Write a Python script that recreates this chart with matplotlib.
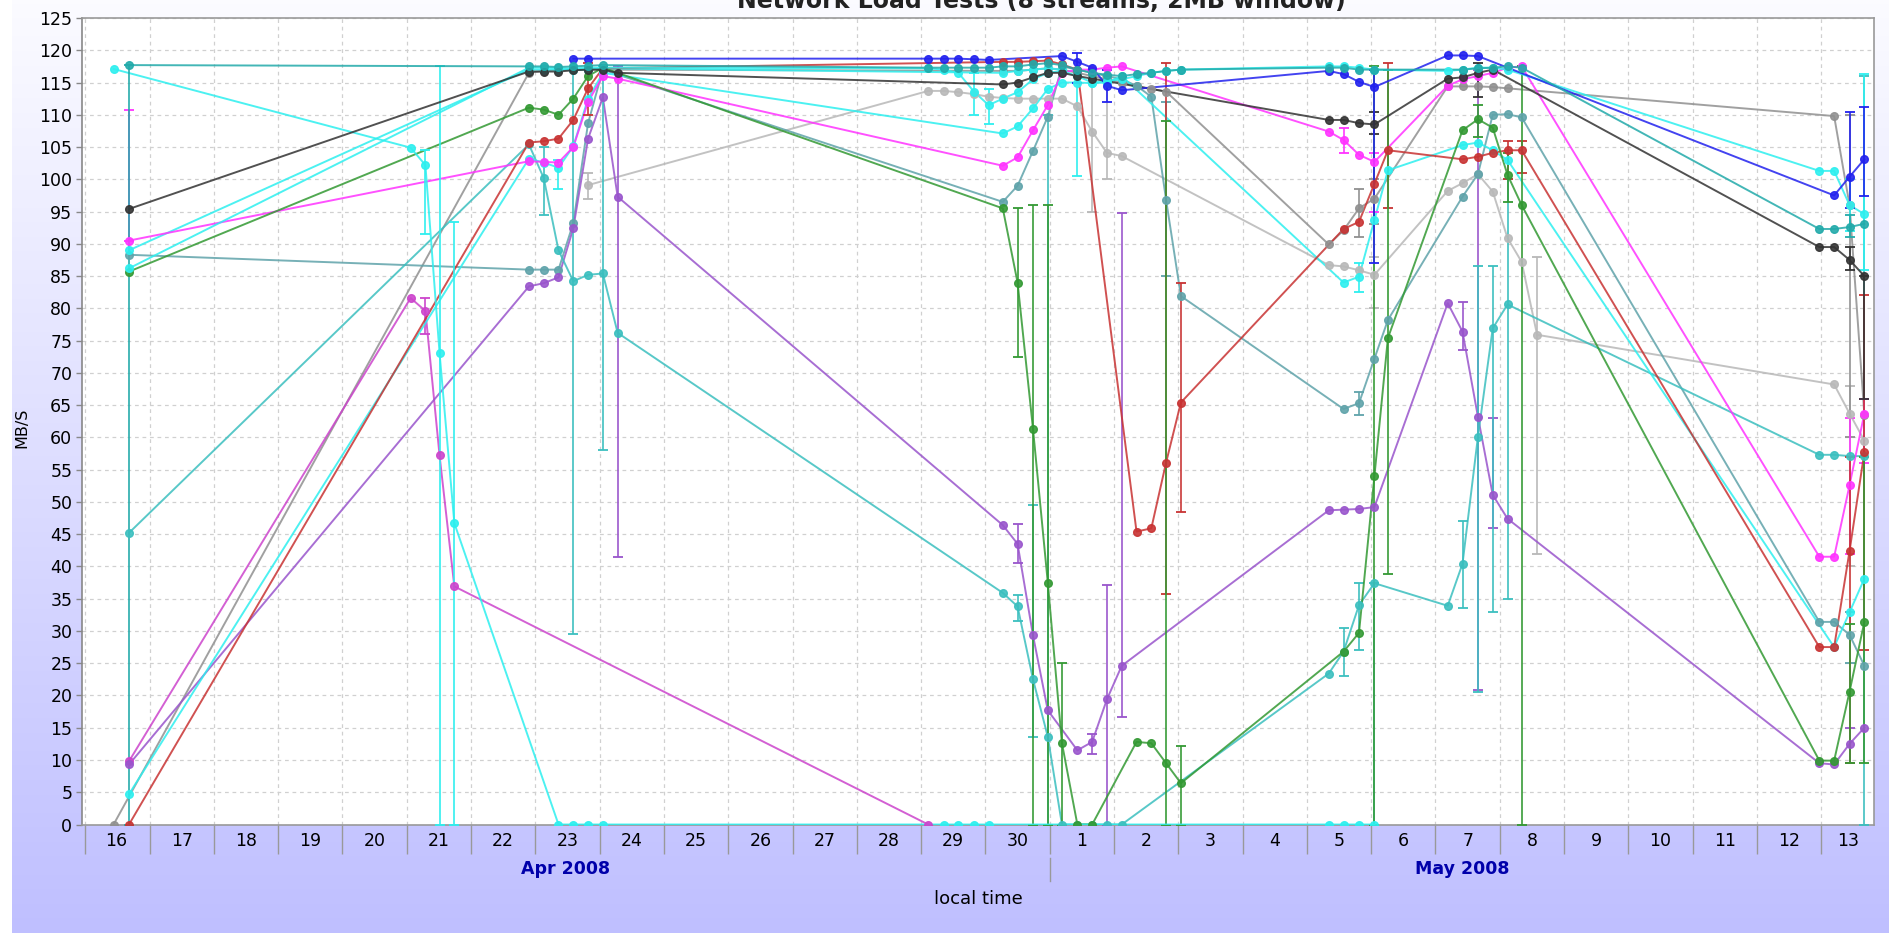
import numpy as np
import matplotlib
matplotlib.use('Agg')
from matplotlib import pyplot as plt
from matplotlib.transforms import blended_transform_factory

# x values are days since 2008-04-16 00:00 local time, y values are MB/S
black_t = [0.68, 6.90, 7.13, 7.36, 7.59, 7.82, 8.05, 8.28, 14.27, 14.50, 14.74, 14.97, 15.19, 15.43, 15.66,
           19.34, 19.57, 19.81, 20.05, 21.19, 21.42, 21.66, 21.89, 26.97, 27.20, 27.44, 27.67]
black_v = [95.4, 116.7, 116.7, 116.7, 116.9, 117.0, 117.0, 116.5, 114.7, 115.0, 115.8, 116.5, 116.5, 116.0, 115.6,
           109.2, 109.2, 108.7, 108.5, 115.6, 115.8, 116.5, 117.0, 89.5, 89.5, 87.5, 85.0]
black_err = [(21.66, 112.8, 118.0), (27.44, 86.0, 89.5), (27.67, 66.0, 85.0), (20.05, 107.0, 110.5)]

blue_t = [7.59, 7.82, 13.11, 13.35, 13.58, 13.82, 14.05, 15.19, 15.43, 15.66, 15.89, 16.12,
          19.34, 19.57, 19.81, 20.05, 21.19, 21.42, 21.66, 27.20, 27.44, 27.67]
blue_v = [118.7, 118.7, 118.7, 118.7, 118.7, 118.6, 118.5, 119.1, 118.2, 117.3, 114.5, 113.8,
          116.8, 116.3, 115.1, 114.3, 119.2, 119.2, 119.1, 97.5, 100.4, 103.1]
blue_err = [(15.43, 115.0, 119.5), (15.89, 112.0, 117.0), (20.05, 87.0, 117.0), (27.44, 95.5, 110.5), (27.67, 97.4, 111.2)]

red_t = [0.68, 6.90, 7.13, 7.36, 7.59, 7.82, 8.05, 14.27, 14.50, 14.74, 14.97, 15.19, 15.43, 16.35, 16.58, 16.81, 17.04,
         19.57, 19.81, 20.05, 20.26, 21.42, 21.66, 21.89, 22.12, 22.34, 26.97, 27.20, 27.44, 27.67]
red_v = [0.0, 105.7, 105.9, 106.3, 109.2, 114.1, 117.2, 118.2, 118.2, 118.3, 118.4, 117.8, 117.0, 45.4, 45.9, 56.1, 65.4,
         92.3, 93.4, 99.3, 104.5, 103.1, 103.5, 104.1, 104.5, 104.5, 27.5, 27.5, 42.4, 57.7]
red_err = [(16.81, 35.8, 118.0), (17.04, 48.5, 84.0), (20.26, 95.5, 118.0), (22.12, 100.0, 106.0), (22.34, 101.0, 106.0),
           (27.44, 9.5, 57.0), (27.67, 27.0, 82.0), (7.82, 110.0, 118.0)]

green_t = [0.68, 6.90, 7.13, 7.36, 7.59, 7.82, 8.05, 14.27, 14.50, 14.74, 14.97, 15.19, 15.43, 15.66, 16.35, 16.58,
           16.81, 17.04, 19.57, 19.81, 20.05, 20.26, 21.42, 21.66, 21.89, 22.12, 22.34, 26.97, 27.20, 27.44, 27.67]
green_v = [85.7, 111.1, 110.8, 110.0, 112.5, 116.0, 117.3, 95.5, 84.0, 61.3, 37.5, 12.6, 0.0, 0.0, 12.8, 12.6,
           9.5, 6.4, 26.8, 29.7, 54.0, 75.4, 107.6, 109.3, 108.0, 100.7, 96.0, 9.9, 9.9, 20.6, 31.4]
green_err = [(14.50, 72.5, 95.5), (14.74, 0.0, 96.0), (14.97, 0.0, 96.0), (15.19, 0.0, 25.0), (16.81, 0.0, 109.0),
             (17.04, 0.0, 12.1), (20.05, 0.0, 117.5), (20.26, 38.9, 117.0), (21.66, 106.5, 111.5), (22.12, 96.5, 104.0),
             (22.34, 0.0, 117.5), (27.44, 9.5, 31.0), (27.67, 9.5, 57.0)]

purple_t = [0.68, 6.90, 7.13, 7.36, 7.59, 7.82, 8.05, 8.28, 14.27, 14.50, 14.74, 14.97, 15.43, 15.66, 15.89, 16.12,
            19.34, 19.57, 19.81, 20.05, 21.19, 21.42, 21.66, 21.89, 22.12, 26.97, 27.20, 27.44, 27.67]
purple_v = [9.3, 83.4, 83.9, 84.8, 92.4, 106.3, 112.7, 97.3, 46.4, 43.5, 29.3, 17.7, 11.5, 12.8, 19.4, 24.6,
            48.7, 48.8, 48.9, 49.2, 80.8, 76.4, 63.2, 51.1, 47.4, 9.5, 9.3, 12.5, 15.0]
purple_err = [(8.28, 41.4, 117.5), (14.50, 40.5, 46.5), (15.66, 11.0, 14.0), (15.89, 0.0, 37.1), (16.12, 16.7, 94.8),
              (21.42, 73.5, 81.0), (21.66, 20.8, 117.0), (21.89, 46.0, 63.0), (27.44, 9.5, 15.0)]

magenta_t = [0.68, 6.90, 7.13, 7.36, 7.59, 7.82, 8.05, 8.28, 14.27, 14.50, 14.74, 14.97, 15.19, 15.43, 15.66, 15.89, 16.12,
             19.34, 19.57, 19.81, 20.05, 21.19, 21.42, 21.66, 21.89, 22.12, 22.34, 26.97, 27.20, 27.44, 27.67]
magenta_v = [90.5, 102.8, 102.7, 102.6, 105.0, 112.0, 116.0, 115.6, 102.1, 103.4, 107.6, 111.5, 116.5, 117.0, 117.0, 117.3, 117.5,
             107.4, 106.1, 103.8, 102.7, 114.5, 115.5, 116.0, 116.5, 117.3, 117.5, 41.5, 41.5, 52.6, 63.7]
magenta_err = [(0.68, 90.5, 110.8), (19.57, 104.0, 108.0), (20.05, 95.0, 104.0), (27.44, 42.0, 63.0), (27.67, 56.0, 66.0)]

orchid_t = [0.68, 5.06, 5.29, 5.51, 5.74, 13.11]
orchid_v = [9.8, 81.6, 79.6, 57.2, 36.9, 0.0]
orchid_err = [(5.29, 76.0, 81.6)]

cyan_a_t = [0.44, 5.06, 5.29, 5.51, 5.74, 7.36, 7.59, 7.82, 8.05, 13.35, 13.58, 13.82, 14.05, 19.34, 19.57, 19.81, 20.05]
cyan_a_v = [117.1, 104.9, 102.2, 73.1, 46.7, 0.0, 0.0, 0.0, 0.0, 0.0, 0.0, 0.0, 0.0, 0.0, 0.0, 0.0, 0.0]
cyan_a_err = [(5.29, 91.5, 104.5), (5.51, 0.0, 117.5), (5.74, 0.0, 93.4)]

cyan_b_t = [0.68, 6.90, 7.13, 7.36, 7.59, 7.82, 8.05, 14.27, 14.50, 14.74, 14.97, 15.19, 15.43, 15.66, 15.89, 16.12,
            19.57, 19.81, 20.05, 20.26, 21.42, 21.66, 21.89, 22.12, 27.20, 27.44, 27.67]
cyan_b_v = [4.7, 103.2, 102.6, 101.8, 105.1, 112.5, 116.5, 107.1, 108.2, 111.0, 114.0, 115.0, 115.0, 114.9, 115.0, 116.0,
            84.0, 84.9, 93.7, 101.4, 105.3, 105.7, 104.5, 103.0, 27.5, 32.9, 38.1]
cyan_b_err = [(7.36, 98.5, 103.0), (15.43, 100.5, 117.0), (19.81, 82.5, 87.0)]

cyan_c_t = [0.68, 6.90, 7.13, 7.36, 7.59, 7.82, 8.05, 13.11, 13.35, 13.58, 13.82, 14.05, 14.27, 14.50, 14.74, 14.97,
            15.19, 15.43, 15.66, 15.89, 16.12, 16.35, 16.58, 16.81, 17.04, 19.34, 19.57, 19.81, 20.05,
            21.19, 21.42, 21.66, 21.89, 22.12, 26.97, 27.20, 27.44, 27.67]
cyan_c_v = [86.2, 117.3, 117.3, 117.2, 117.2, 117.3, 117.3, 117.2, 117.0, 116.5, 113.6, 111.5, 112.5, 113.5, 115.5, 116.5,
            116.8, 116.0, 115.0, 115.2, 115.5, 116.0, 116.5, 116.8, 117.0, 117.5, 117.5, 117.3, 117.0,
            116.8, 117.0, 117.3, 117.3, 117.0, 101.3, 101.3, 96.0, 94.6]
cyan_c_err = [(13.82, 110.0, 116.5), (14.05, 108.5, 114.0), (27.67, 86.0, 116.3), (27.44, 92.0, 100.0)]

cyan_d_t = [0.68, 6.90, 7.13, 7.36, 7.59, 7.82, 8.05, 14.27, 14.50, 14.74, 14.97, 15.19]
cyan_d_v = [89.0, 117.0, 117.0, 117.0, 117.0, 117.0, 117.2, 116.5, 116.8, 117.0, 117.2, 117.0]

teal_a_t = [0.68, 6.90, 7.13, 7.36, 7.59, 7.82, 8.05, 8.28, 14.27, 14.50, 14.74, 14.97, 15.19, 15.43, 15.66, 15.89, 16.12,
            19.34, 19.57, 19.81, 20.05, 21.19, 21.42, 21.66, 21.89, 22.12, 26.97, 27.20, 27.44, 27.67]
teal_a_v = [45.2, 105.4, 100.2, 89.0, 84.2, 85.2, 85.4, 76.2, 35.9, 33.8, 22.5, 13.6, 0.0, 0.0, 0.0, 0.0, 0.0,
            23.4, 26.8, 34.0, 37.4, 33.9, 40.4, 60.1, 76.9, 80.6, 57.3, 57.3, 57.1, 57.1]
teal_a_err = [(7.13, 94.5, 105.0), (7.59, 29.6, 117.0), (8.05, 58.0, 117.5), (14.50, 31.5, 35.5), (14.74, 13.5, 49.5),
              (14.97, 0.0, 110.0), (19.57, 23.0, 30.5), (19.81, 27.0, 37.5), (20.05, 0.0, 37.4), (21.42, 33.5, 47.0),
              (21.66, 20.5, 86.5), (21.89, 33.0, 86.5), (22.12, 35.0, 100.0), (27.67, 0.0, 116.0)]

teal_b_t = [0.68, 6.90, 7.13, 7.36, 7.59, 7.82, 8.05, 13.11, 13.35, 13.58, 13.82, 14.05, 14.27, 14.50, 14.74, 14.97,
            15.19, 15.43, 15.66, 15.89, 16.12, 16.35, 16.58, 16.81, 17.04, 19.34, 19.57, 19.81, 20.05,
            21.42, 21.66, 21.89, 22.12, 22.34, 26.97, 27.20, 27.44, 27.67]
teal_b_v = [117.7, 117.5, 117.5, 117.4, 117.5, 117.6, 117.7, 117.3, 117.3, 117.3, 117.3, 117.3, 117.5, 117.5, 117.8, 118.0,
            117.7, 117.0, 116.5, 116.2, 116.0, 116.3, 116.5, 116.8, 117.0, 117.3, 117.3, 117.0, 117.0,
            117.0, 117.2, 117.3, 117.5, 117.3, 92.3, 92.3, 92.6, 93.1]
teal_b_err = [(0.68, 0.0, 117.7), (27.44, 91.0, 94.5)]

cadet_t = [0.68, 6.90, 7.13, 7.36, 7.59, 7.82, 8.05, 14.27, 14.50, 14.74, 14.97, 15.19, 15.43, 15.66, 15.89, 16.12,
           16.35, 16.58, 16.81, 17.04, 19.57, 19.81, 20.05, 20.26, 21.42, 21.66, 21.89, 22.12, 22.34,
           26.97, 27.20, 27.44, 27.67]
cadet_v = [88.3, 86.0, 86.0, 86.0, 93.2, 108.7, 117.0, 96.5, 99.0, 104.4, 109.7, 117.5, 117.0, 116.5, 116.0, 115.5,
           114.5, 112.8, 96.8, 81.9, 64.4, 65.3, 72.2, 78.2, 97.3, 100.8, 110.0, 110.1, 109.6,
           31.4, 31.4, 29.4, 24.6]
cadet_err = [(19.81, 63.5, 67.0), (16.81, 85.0, 112.0), (27.44, 25.0, 33.0)]

gray_t = [0.44, 6.90, 7.13, 7.36, 7.59, 7.82, 8.05, 14.27, 14.50, 14.74, 14.97, 15.19, 15.43, 15.66, 15.89, 16.12,
          16.35, 16.58, 16.81, 19.34, 19.57, 19.81, 20.05, 21.19, 21.42, 21.66, 21.89, 22.12, 27.20, 27.44, 27.67]
gray_v = [0.0, 116.5, 116.8, 117.0, 117.0, 117.0, 117.0, 116.8, 116.8, 117.0, 117.2, 117.0, 116.5, 116.0, 115.5, 115.0,
          114.5, 114.0, 113.6, 89.9, 92.1, 95.5, 97.0, 114.4, 114.4, 114.4, 114.3, 114.1, 109.8, 96.0, 63.5]
gray_err = [(19.81, 91.0, 98.5), (20.05, 93.0, 100.0), (27.44, 60.0, 110.0)]

lgray_t = [7.82, 13.11, 13.35, 13.58, 13.82, 14.05, 14.27, 14.50, 14.74, 14.97, 15.19, 15.43, 15.66, 15.89, 16.12,
           19.34, 19.57, 19.81, 20.05, 21.19, 21.42, 21.66, 21.89, 22.12, 22.34, 22.58, 27.20, 27.44, 27.67]
lgray_v = [99.1, 113.7, 113.7, 113.5, 113.2, 112.8, 112.6, 112.5, 112.5, 112.5, 112.5, 111.3, 107.4, 104.1, 103.6,
           86.7, 86.5, 85.9, 85.2, 98.2, 99.4, 100.8, 98.1, 90.9, 87.2, 75.9, 68.2, 63.7, 59.5]
lgray_err = [(7.82, 97.0, 101.0), (15.66, 95.0, 117.0), (15.89, 100.0, 116.0), (20.05, 80.0, 88.0),
             (22.58, 42.0, 88.0), (27.44, 40.0, 68.0)]

day_labels = ['16', '17', '18', '19', '20', '21', '22', '23', '24', '25', '26', '27', '28', '29', '30',
              '1', '2', '3', '4', '5', '6', '7', '8', '9', '10', '11', '12', '13']
month_labels = ['Apr 2008', 'May 2008']
month_start = [0, 15]

series = [
    ('#B8B8B8', lgray_t, lgray_v, lgray_err),
    ('#909090', gray_t, gray_v, gray_err),
    ('#5FA3AA', cadet_t, cadet_v, cadet_err),
    ('#CC44CC', orchid_t, orchid_v, orchid_err),
    ('#9955CC', purple_t, purple_v, purple_err),
    ('#3BBFBF', teal_a_t, teal_a_v, teal_a_err),
    ('#2DEFEF', cyan_b_t, cyan_b_v, cyan_b_err),
    ('#2DEFEF', cyan_d_t, cyan_d_v, []),
    ('#FF33FF', magenta_t, magenta_v, magenta_err),
    ('#C83333', red_t, red_v, red_err),
    ('#339933', green_t, green_v, green_err),
    ('#2DEFEF', cyan_a_t, cyan_a_v, cyan_a_err),
    ('#2DEFEF', cyan_c_t, cyan_c_v, cyan_c_err),
    ('#333333', black_t, black_v, black_err),
    ('#2222EE', blue_t, blue_v, blue_err),
    ('#22AAAA', teal_b_t, teal_b_v, teal_b_err),
]

W, H = 1890, 933
fig = plt.figure(figsize=(W / 100, H / 100), dpi=100)

# background gradient of the chart panel
bg = fig.add_axes([0, 0, 1, 1], zorder=-10)
grad = np.linspace(0, 1, 256)[:, None]
top = np.array([0.985, 0.985, 1.0])
bot = np.array([0.75, 0.75, 1.0])
img = top[None, None, :] * (1 - grad[:, :, None]) + bot[None, None, :] * grad[:, :, None]
bg.imshow(img, aspect='auto', extent=[0, 1, 0, 1])
bg.add_patch(plt.Rectangle((0, 0), 12 / W, 1, color='white', lw=0))
bg.set_xlim(0, 1)
bg.set_ylim(0, 1)
bg.axis('off')

x0, x1 = 82, 1874
y_top, y_bot = 18, 824.5
ax = fig.add_axes([x0 / W, 1 - y_bot / H, (x1 - x0) / W, (y_bot - y_top) / H])
ax.set_facecolor('#FFFFFF')

xmin, xmax = -0.051, 27.82
ax.set_xlim(xmin, xmax)
ax.set_ylim(0, 125)

for color, t, v, err in series:
    ax.plot(t, v, '-', color=color, lw=1.4, alpha=0.85, zorder=3)
    ax.plot(t, v, 'o', color=color, ms=5.5, mec=color, alpha=0.9, zorder=4)
    if err:
        et = [e[0] for e in err]
        lo = [e[1] for e in err]
        hi = [e[2] for e in err]
        ax.vlines(et, lo, hi, color=color, lw=1.3, alpha=0.9, zorder=3)
        ax.plot(et, lo, '_', color=color, ms=7, mew=1.3, zorder=3)
        ax.plot(et, hi, '_', color=color, ms=7, mew=1.3, zorder=3)

# axes, grid and ticks
ax.set_yticks(np.arange(0, 126, 5))
ax.set_yticklabels([str(v) for v in range(0, 126, 5)], fontsize=12.5)
ax.set_xticks(np.arange(0, 28))
ax.set_xticklabels([])
ax.tick_params(axis='x', length=21, color='#999999', width=1)
ax.tick_params(axis='y', length=4, color='#888888', width=1, pad=3)
ax.grid(True, color='#D0D0D0', ls=(0, (3, 3)), lw=0.9)
ax.set_axisbelow(True)
for s in ax.spines.values():
    s.set_color('#999999')
    s.set_linewidth(1.2)
ax.spines['left'].set_color('#888888')

trans = blended_transform_factory(ax.transData, ax.transAxes)
pix = 1.0 / (y_bot - y_top)
for k, lab in enumerate(day_labels):
    if k == 0:
        pos = (xmin + 1) / 2
    elif k == len(day_labels) - 1:
        pos = (k + xmax) / 2
    else:
        pos = k + 0.5
    ax.text(pos, -16.5 * pix, lab, transform=trans, ha='center', va='center', fontsize=12.5)

bounds = [xmin, month_start[1], xmax]
for i, lab in enumerate(month_labels):
    ax.text((bounds[i] + bounds[i + 1]) / 2, -44 * pix, lab, transform=trans, ha='center', va='center',
            fontsize=12.5, fontweight='bold', color='#0000AA')
ax.plot([month_start[1], month_start[1]], [-33 * pix, -56 * pix], transform=trans, color='#999999',
        lw=1, clip_on=False)

ax.text((xmin + xmax) / 2, -75 * pix, 'local time', transform=trans, ha='center', va='center', fontsize=13)
fig.text(22 / W, 1 - 428 / H, 'MB/S', rotation=90, ha='center', va='center', fontsize=11.5)

# the title sits partly above the top edge, as in the source image
fig.text(1041 / W, 1 - 8 / H, 'Network Load Tests (8 streams, 2MB window)', ha='center', va='baseline',
         fontsize=17, fontweight='bold', color='#222222')

fig.savefig('out.png', dpi=100)
